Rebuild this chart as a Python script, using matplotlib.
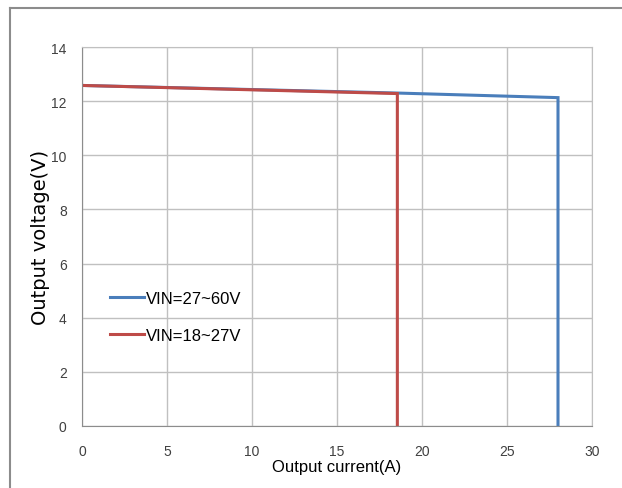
import matplotlib
matplotlib.use("Agg")
import matplotlib.pyplot as plt
from matplotlib.lines import Line2D

blue_x = [0, 18.5, 28.0, 28.0]
blue_y = [12.58, 12.30, 12.13, 0]
red_x = [0, 18.55, 18.55]
red_y = [12.58, 12.28, 0]
labels = ["VIN=27~60V", "VIN=18~27V"]
xticks = [0, 5, 10, 15, 20, 25, 30]
yticks = [0, 2, 4, 6, 8, 10, 12, 14]

W, H = 622, 489
fig = plt.figure(figsize=(W/100, H/100), dpi=100)
lib = ["Liberation Sans", "DejaVu Sans"]

# outer frame
fig.add_artist(Line2D([10/W, 10/W], [0, 1 - 9/H], color="#8c8c8c", lw=1.5))
fig.add_artist(Line2D([10/W, 1], [1 - 9/H, 1 - 9/H], color="#8c8c8c", lw=1.5))

ax = fig.add_axes([82/W, 1 - 427/H, 510/W, 379/H])
ax.set_xlim(0, 30)
ax.set_ylim(0, 14)
ax.set_xticks(xticks)
ax.set_yticks(yticks)
ax.grid(True, color="#c0c0c0", lw=1)
ax.set_axisbelow(True)
for s in ax.spines.values():
    s.set_color("#c0c0c0")
ax.spines["left"].set_color("#8c8c8c")
ax.spines["bottom"].set_color("#8c8c8c")
ax.tick_params(axis="y", length=0, pad=11, labelcolor="#404040")
ax.tick_params(axis="x", length=0, pad=13, labelcolor="#404040")
for lab in ax.get_xticklabels() + ax.get_yticklabels():
    lab.set_family(lib)
    lab.set_fontsize(10)

ax.plot(blue_x, blue_y, color="#4a7ebb", lw=2.2, label=labels[0], solid_joinstyle="miter")
ax.plot(red_x, red_y, color="#be4b48", lw=2.2, label=labels[1], solid_joinstyle="miter")

ax.set_xlabel("Output current(A)", fontsize=12, family=lib, labelpad=1)
ax.set_ylabel("Output voltage(V)", fontsize=14, family=["DejaVu Sans"], labelpad=1)

leg = ax.legend(loc="upper left", bbox_to_anchor=(0.026, 0.395), frameon=False,
                handlelength=2.0, handletextpad=0.15, labelspacing=1.3,
                prop={"family": lib, "size": 12})

fig.savefig("out.png", dpi=100)
